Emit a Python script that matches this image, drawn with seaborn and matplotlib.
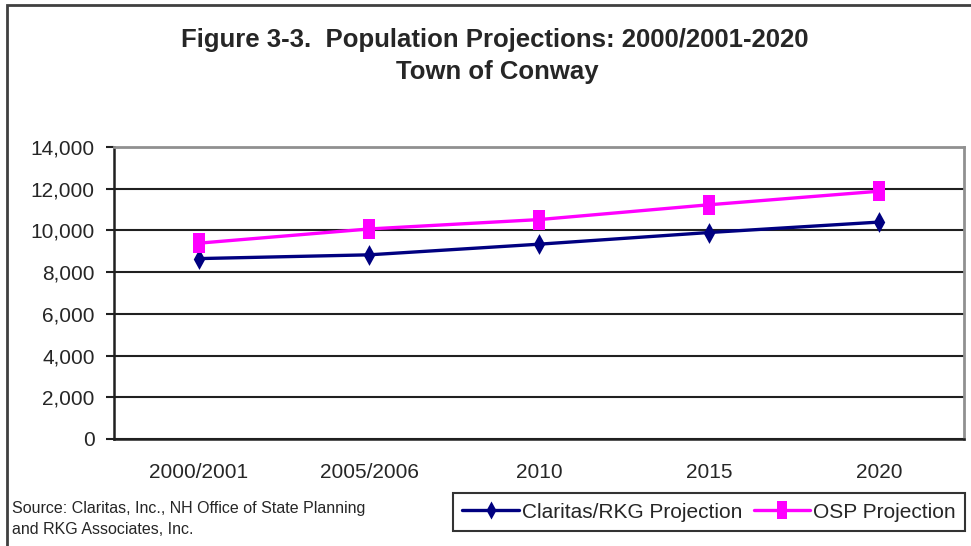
import matplotlib
matplotlib.use("Agg")
import matplotlib.pyplot as plt
import seaborn as sns
import pandas as pd
from matplotlib.path import Path
from matplotlib.patches import Rectangle
from matplotlib.lines import Line2D
from matplotlib.ticker import FuncFormatter, FixedLocator

categories = ["2000/2001", "2005/2006", "2010", "2015", "2020"]
claritas = [8650, 8830, 9340, 9900, 10400]
osp = [9390, 10070, 10520, 11230, 11880]
series_names = ["Claritas/RKG Projection", "OSP Projection"]
yticks = [0, 2000, 4000, 6000, 8000, 10000, 12000, 14000]

sns.set_style("white")
plt.rcParams['font.family'] = ['Liberation Sans', 'DejaVu Sans']

df = pd.DataFrame({
    "pos": list(range(len(categories))) * 2,
    "value": claritas + osp,
    "series": [series_names[0]] * len(categories) + [series_names[1]] * len(categories),
})

diamond = Path([(0, 1), (0.55, 0), (0, -1), (-0.55, 0), (0, 1)],
               [Path.MOVETO, Path.LINETO, Path.LINETO, Path.LINETO, Path.CLOSEPOLY])
rect = Path([(-0.6, -1), (0.6, -1), (0.6, 1), (-0.6, 1), (-0.6, -1)],
            [Path.MOVETO, Path.LINETO, Path.LINETO, Path.LINETO, Path.CLOSEPOLY])

fig = plt.figure(figsize=(9.71, 5.46), dpi=100)
ax = fig.add_axes([114 / 971, 1 - 439 / 546, (964 - 114) / 971, (439 - 147) / 546])

palette = {series_names[0]: "#000080", series_names[1]: "#FF00FF"}
sns.lineplot(data=df, x="pos", y="value", hue="series", style="series",
             palette=palette, markers={series_names[0]: diamond, series_names[1]: rect},
             dashes=False, linewidth=2.4, markersize=15, markeredgewidth=0,
             ax=ax, legend=False)

ax.set_xlim(-0.5, len(categories) - 0.5)
ax.set_ylim(0, 14000)
ax.set_xlabel("")
ax.set_ylabel("")
ax.set_xticks(range(len(categories)))
ax.set_xticklabels(categories)
ax.xaxis.set_minor_locator(FixedLocator([i - 0.5 for i in range(len(categories) + 1)]))
ax.tick_params(axis='x', which='major', length=0, pad=17, labelsize=15)
ax.tick_params(axis='x', which='minor', length=6, width=1.5, color='#202020', direction='out')
ax.set_yticks(yticks)
ax.yaxis.set_major_formatter(FuncFormatter(lambda v, p: f"{int(v):,}"))
ax.tick_params(axis='y', length=6, width=1.5, color='#202020', direction='out',
               labelsize=15, pad=8, left=True)

ax.grid(axis='y', color='#202020', linewidth=1.5)
ax.set_axisbelow(True)
for s in ['left', 'bottom']:
    ax.spines[s].set_color('#202020')
    ax.spines[s].set_linewidth(1.8)
for s in ['top', 'right']:
    ax.spines[s].set_color('#909090')
    ax.spines[s].set_linewidth(2)

fig.text(495 / 971, 1 - 40 / 546, "Figure 3-3.  Population Projections: 2000/2001-2020",
         ha='center', va='center', fontsize=18.5, fontweight='bold')
fig.text(497 / 971, 1 - 72 / 546, "Town of Conway",
         ha='center', va='center', fontsize=18.5, fontweight='bold')

fig.text(12 / 971, 1 - 508 / 546, "Source: Claritas, Inc., NH Office of State Planning",
         ha='left', va='center', fontsize=11.5)
fig.text(12 / 971, 1 - 530 / 546, "and RKG Associates, Inc.",
         ha='left', va='center', fontsize=11.5)

handles = [
    Line2D([], [], color="#000080", linewidth=2.4, marker=diamond, markersize=13, markeredgewidth=0),
    Line2D([], [], color="#FF00FF", linewidth=2.4, marker=rect, markersize=13, markeredgewidth=0),
]
leg = fig.legend(handles, series_names, loc='lower right', ncol=2,
                 bbox_to_anchor=(965 / 971, 1 - 531 / 546), frameon=True, fancybox=False,
                 edgecolor='black', fontsize=15, handlelength=2.7, handletextpad=0.15,
                 columnspacing=0.55, borderpad=0.45, borderaxespad=0)
leg.get_frame().set_linewidth(1.5)

fig.patches.append(Rectangle((7 / 971, -0.1), 1.2, 1 - 5 / 546 + 0.1, transform=fig.transFigure,
                             fill=False, edgecolor='#404040', linewidth=2))

fig.savefig("out.png", dpi=100)
